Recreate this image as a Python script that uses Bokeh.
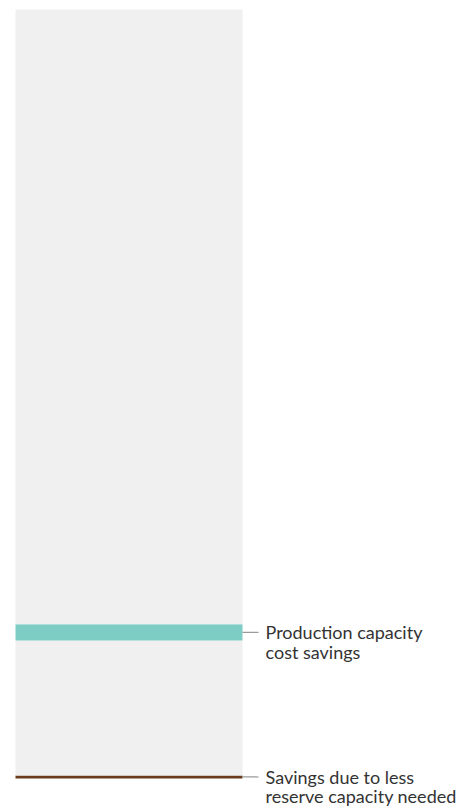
from bokeh.plotting import figure
from bokeh.models import ColumnDataSource, Range1d
from bokeh.core.properties import value
from bokeh.embed import file_html
from bokeh.resources import INLINE

# ---- data (stacked segments of one bar, bottom to top) ----
segments = ["reserve", "base", "production", "rest"]
segment_values = [0.4, 17.55, 2.1, 79.95]
segment_colors = ["#6b3a1c", "#f0f0f0", "#7dcdc5", "#f0f0f0"]
bar_x = [1]

label_segments = ["production", "reserve"]
label_texts = ["Production capacity\ncost savings", "Savings due to less\nreserve capacity needed"]

# ---- build ----
bottoms, tops = [], []
acc = 0.0
for v in segment_values:
    bottoms.append(acc)
    acc += v
    tops.append(acc)

W, H = 475, 807
BAR_W = 1.0
px_per_x = 227.0
x_start = 1 - BAR_W / 2 - 15 / px_per_x
x_end = x_start + W / px_per_x
px_per_y = 769.0 / 100.0
y_start = -(H - 778) / px_per_y
y_end = 778 / px_per_y

p = figure(width=W, height=H, output_backend="svg", toolbar_location=None,
           x_range=Range1d(x_start, x_end), y_range=Range1d(y_start, y_end),
           min_border=0, min_border_left=0, min_border_right=0,
           min_border_top=0, min_border_bottom=0)
p.axis.visible = False
p.grid.visible = False
p.outline_line_color = None
p.background_fill_color = "white"
p.border_fill_color = "white"

src = ColumnDataSource(dict(x=[bar_x[0]] * len(segments), bottom=bottoms, top=tops,
                            color=segment_colors, name=segments))
p.vbar(x="x", width=BAR_W, bottom="bottom", top="top", fill_color="color",
       line_color=None, source=src)

lx0, lx1, ly, ltext = [], [], [], []
for seg, t in zip(label_segments, label_texts):
    i = segments.index(seg)
    ymid = (bottoms[i] + tops[i]) / 2
    lx0.append(bar_x[0] + BAR_W / 2)
    lx1.append(bar_x[0] + BAR_W / 2 + 16 / px_per_x)
    ly.append(ymid)
    ltext.append(t)

lsrc = ColumnDataSource(dict(x0=lx0, x1=lx1, y=ly, text=ltext))
p.segment(x0="x0", y0="y", x1="x1", y1="y", line_color="#9a9a9a", line_width=1.2, source=lsrc)
p.text(x="x1", y="y", text="text", source=lsrc, x_offset=7, y_offset=-11,
       text_font=value("Lato"), text_font_size="18px", text_color="#333333",
       text_baseline="top", text_align="left", text_line_height=0.88)

open("out.html", "w").write(file_html(p, INLINE))
